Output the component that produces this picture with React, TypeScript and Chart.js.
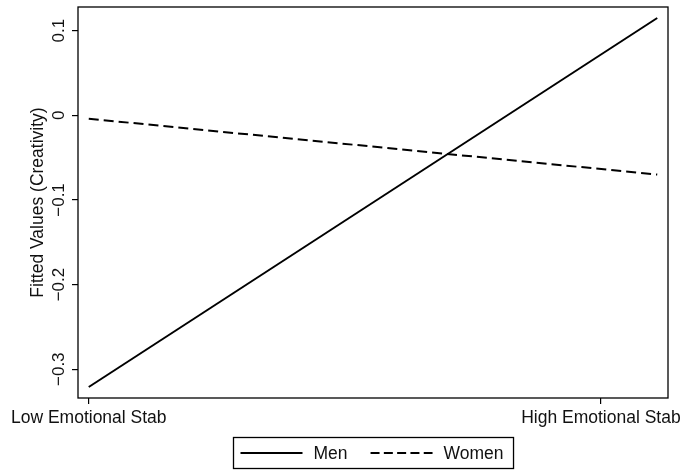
import React, { useEffect, useRef } from 'react';
import { Chart, registerables } from 'chart.js';

Chart.register(...registerables);

// fitted lines (x: 0 = low, 1 = high emotional stability)
const seriesNames = ['Men', 'Women'];
const xPositions = [0, 1.11];
const menValues = [-0.321, 0.115];
const womenValues = [-0.004, -0.07];
const xTickValues = [0, 1];
const xTickLabels = ['Low Emotional Stab', 'High Emotional Stab'];
const yTickValues = [-0.3, -0.2, -0.1, 0, 0.1];

const FONT = '"Liberation Sans", Arial, Helvetica, sans-serif';

const fmtY = (v: number) => (v === 0 ? '0' : v.toFixed(1).replace('-', '\u2212'));

// box around the plot region
const frame = {
    id: 'frame',
    afterDraw(chart: any) {
        const { ctx, chartArea } = chart;
        ctx.save();
        ctx.strokeStyle = '#000';
        ctx.lineWidth = 1.3;
        ctx.strokeRect(chartArea.left, chartArea.top, chartArea.right - chartArea.left, chartArea.bottom - chartArea.top);
        ctx.restore();
    }
};

// Stata-like boxed legend under the plot
const legendBox = {
    id: 'legendBox',
    afterDraw(chart: any) {
        const { ctx, chartArea } = chart;
        ctx.save();
        ctx.font = '17.5px ' + FONT;
        const sampleW = 62, gapText = 11, gapItem = 23, padL = 7, padR = 10;
        const items = chart.data.datasets.map((ds: any) => ({
            label: ds.label,
            dash: ds.borderDash && ds.borderDash.length ? [9, 4.3] : [],
            w: ctx.measureText(ds.label).width
        }));
        let total = padL + padR;
        items.forEach((it: any, i: number) => { total += sampleW + gapText + it.w + (i ? gapItem : 0); });
        const h = 31;
        const left = Math.round((chartArea.left + chartArea.right) / 2 - total / 2) + 0.5;
        const top = chart.height - h - 1.5;
        ctx.strokeStyle = '#000';
        ctx.lineWidth = 1.3;
        ctx.strokeRect(left, top, total, h);
        const cy = top + h / 2;
        let x = left + padL;
        ctx.fillStyle = '#111';
        ctx.textBaseline = 'middle';
        items.forEach((it: any, i: number) => {
            if (i) x += gapItem;
            ctx.beginPath();
            ctx.setLineDash(it.dash);
            ctx.lineWidth = 2;
            ctx.moveTo(x, cy);
            ctx.lineTo(x + sampleW, cy);
            ctx.stroke();
            ctx.setLineDash([]);
            x += sampleW + gapText;
            ctx.fillText(it.label, x, cy + 1);
            x += it.w;
        });
        ctx.restore();
    }
};

const FittedChart = () => {
    const canvasRef = useRef<HTMLCanvasElement>(null);

    useEffect(() => {
        document.body.style.margin = '0';
        const ctx = canvasRef.current!.getContext('2d')!;

        const chart = new Chart(ctx, {
            type: 'line',
            data: {
                datasets: [
                    {
                        label: seriesNames[0],
                        data: xPositions.map((x, i) => ({ x, y: menValues[i] })),
                        borderColor: '#000',
                        borderWidth: 2,
                        pointRadius: 0,
                        borderDash: []
                    },
                    {
                        label: seriesNames[1],
                        data: xPositions.map((x, i) => ({ x, y: womenValues[i] })),
                        borderColor: '#000',
                        borderWidth: 2,
                        pointRadius: 0,
                        borderDash: [10, 5]
                    }
                ]
            },
            options: {
                animation: false,
                responsive: true,
                maintainAspectRatio: false,
                layout: { padding: { top: 7, right: 15, left: 0, bottom: 40 } },
                plugins: {
                    legend: { display: false },
                    tooltip: { enabled: false }
                },
                scales: {
                    x: {
                        type: 'linear',
                        min: -0.021,
                        max: 1.131,
                        afterBuildTicks: (scale: any) => {
                            scale.ticks = xTickValues.map(v => ({ value: v }));
                        },
                        afterFit: (scale: any) => {
                            scale.height = 32;
                            // labels fit inside the canvas already, keep the plot width fixed
                            scale.paddingLeft = 0;
                            scale.paddingRight = 0;
                        },
                        border: { display: false },
                        grid: { display: true, drawOnChartArea: false, drawTicks: true, tickLength: 6, color: '#000', lineWidth: 1.2 },
                        ticks: {
                            autoSkip: false,
                            maxRotation: 0,
                            padding: 4,
                            color: '#111',
                            font: { family: FONT, size: 17.5 },
                            callback: (v: any) => xTickLabels[xTickValues.indexOf(Number(v))] ?? ''
                        }
                    },
                    y: {
                        type: 'linear',
                        min: -0.334,
                        max: 0.128,
                        afterBuildTicks: (scale: any) => {
                            scale.ticks = yTickValues.map(v => ({ value: v }));
                        },
                        afterFit: (scale: any) => { scale.width = 78; },
                        border: { display: false },
                        grid: { display: true, drawOnChartArea: false, drawTicks: true, tickLength: 6, color: '#000', lineWidth: 1.2 },
                        ticks: {
                            autoSkip: false,
                            minRotation: 90,
                            maxRotation: 90,
                            crossAlign: 'center',
                            padding: -4,
                            color: '#111',
                            font: { family: FONT, size: 17 },
                            callback: (v: any) => fmtY(Number(v))
                        },
                        title: {
                            display: true,
                            text: 'Fitted Values (Creativity)',
                            color: '#111',
                            font: { family: FONT, size: 17.5 },
                            padding: { top: 28, bottom: 0 }
                        }
                    }
                }
            },
            plugins: [frame, legendBox]
        } as any);

        return () => {
            chart.destroy();
        };
    }, []);

    return (
        <div style={{ position: 'relative', width: 683, height: 470 }}>
            <canvas ref={canvasRef} />
        </div>
    );
};

export default function App() {
    return <FittedChart />;
}
